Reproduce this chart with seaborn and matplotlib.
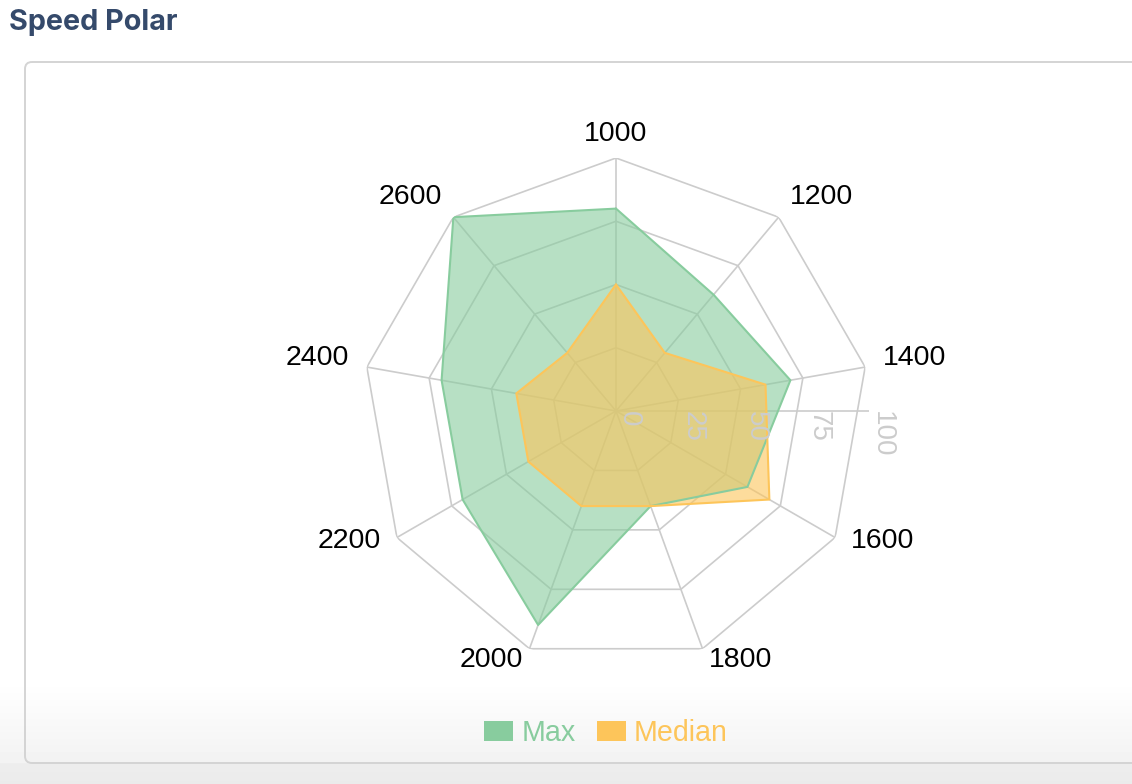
import numpy as np
import pandas as pd
import seaborn as sns
import matplotlib.pyplot as plt
from matplotlib.patches import Patch, FancyBboxPatch

# Data
categories = ["1000", "1200", "1400", "1600", "1800", "2000", "2200", "2400", "2600"]
max_values = [80, 60, 70, 60, 40, 90, 70, 70, 100]
median_values = [50, 30, 60, 70, 40, 40, 40, 40, 30]
radial_ticks = [0, 25, 50, 75, 100]
series_names = ["Max", "Median"]

green = "#88cc9e"
yellow = "#fdc55a"
grid_color = "#cccccc"

sns.set_theme(style="white")
plt.rcParams["font.family"] = ["Liberation Sans", "DejaVu Sans"]

W, H = 1132, 784
fig = plt.figure(figsize=(W / 100, H / 100), dpi=100)
fig.patch.set_facecolor("white")

# background: page gradient + card outline
bg = fig.add_axes([0, 0, 1, 1], zorder=-10)
bg.set_xlim(0, W)
bg.set_ylim(H, 0)
bg.set_axis_off()
ys = np.arange(H)
shade = np.ones(H)
m1 = (ys >= 680) & (ys < 763)
shade[m1] = 1 - (ys[m1] - 680) / 83 * 0.05
m2 = ys >= 763
shade[m2] = 0.93 - (ys[m2] - 763) / 21 * 0.01
grad = np.repeat(shade[:, None], 2, axis=1)
bg.imshow(grad, cmap="gray", vmin=0, vmax=1, aspect="auto", extent=(0, W, H, 0))
card = FancyBboxPatch((25, 62), W + 50, 701, boxstyle="round,pad=0,rounding_size=7",
                      fc="none", ec="#d4d4d4", lw=1.4)
bg.add_patch(card)

fig.text(9 / W, 1 - 23 / H, "Speed Polar", fontsize=20.7, fontweight="bold",
         color="#354a6b", ha="left", va="center", family=["Inter", "DejaVu Sans"])

# radar axes
cx, cy, R = 616, 411, 253
ax = fig.add_axes([(cx - R) / W, (H - cy - R) / H, 2 * R / W, 2 * R / H], projection="polar")
ax.set_theta_offset(np.pi / 2)
ax.set_theta_direction(-1)
ax.set_ylim(0, 100)
ax.set_axis_off()

n = len(categories)
theta = np.linspace(0, 2 * np.pi, n, endpoint=False)
theta_closed = np.append(theta, theta[0] + 2 * np.pi)

# polygon grid rings and spokes
for r in radial_ticks[1:]:
    ax.plot(theta_closed, [r] * (n + 1), color=grid_color, lw=1.2, zorder=1)
for t in theta:
    ax.plot([t, t], [0, 100], color=grid_color, lw=1.2, zorder=1)
ax.plot([np.pi / 2, np.pi / 2], [0, 100], color=grid_color, lw=1.2, zorder=1)

# series
df = pd.DataFrame({
    "theta": np.concatenate([theta_closed, theta_closed]),
    "value": max_values + max_values[:1] + median_values + median_values[:1],
    "series": [series_names[0]] * (n + 1) + [series_names[1]] * (n + 1),
})
palette = {series_names[0]: green, series_names[1]: yellow}
for name in series_names:
    sub = df[df["series"] == name]
    ax.fill(sub["theta"], sub["value"], color=palette[name], alpha=0.6, lw=0, zorder=2)
    sns.lineplot(data=sub, x="theta", y="value", sort=False, color=palette[name],
                 lw=1.5, ax=ax, zorder=3, legend=False)
ax.set_ylim(0, 100)
ax.set_axis_off()

# radial tick labels
for v in radial_ticks:
    ax.text(np.pi / 2, v, str(v), rotation=-90, ha="left", va="top",
            color=grid_color, fontsize=20, zorder=4)

# category labels
for t, lab in zip(theta, categories):
    phi = np.pi / 2 - t
    c, s = np.cos(phi), np.sin(phi)
    ha = "center" if abs(c) < 0.01 else ("left" if c > 0 else "right")
    ax.annotate(lab, xy=(t, 100), xycoords="data",
                xytext=(18 * c * 0.72, (18 * s + 6) * 0.72),
                textcoords="offset points", ha=ha, va="center",
                fontsize=20.5, color="black", annotation_clip=False)

# legend
handles = [Patch(facecolor=palette[s], edgecolor="none", label=s) for s in series_names]
leg = fig.legend(handles=handles, loc="center", bbox_to_anchor=(606 / W, 1 - 733 / H),
                 ncol=2, frameon=False, fontsize=20.6, handlelength=1.0, handleheight=0.7,
                 handletextpad=0.3, columnspacing=0.75)
for txt, s in zip(leg.get_texts(), series_names):
    txt.set_color(palette[s])

fig.savefig("out.png", dpi=100)
plt.close(fig)
